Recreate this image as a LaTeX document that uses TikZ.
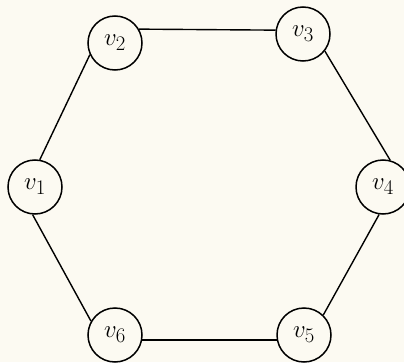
\documentclass[tikz,border=0pt]{standalone}
\begin{document}
\begin{tikzpicture}[x=1pt,y=1pt,
  vtx/.style={circle,draw,line width=1.5pt,minimum size=54pt,inner sep=0pt,fill=bgc,font=\fontsize{30}{31}\selectfont},
  edge/.style={line width=1.4pt}]
\definecolor{bgc}{RGB}{252,250,242}
\fill[bgc] (0,0) rectangle (404,362);
\useasboundingbox (0,0) rectangle (404,362);
\node[vtx] (v1) at (35,175) {$v_1$};
\node[vtx] (v2) at (115,319) {$v_2$};
\node[vtx] (v3) at (303,328) {$v_3$};
\node[vtx] (v4) at (383,175) {$v_4$};
\node[vtx] (v5) at (304,27) {$v_5$};
\node[vtx] (v6) at (115,27) {$v_6$};
\draw[edge] (v1.80) -- (v2.205);
\draw[edge] (v2.30) -- (v3.172);
\draw[edge] (v3.322) -- (v4.75);
\draw[edge] (v4.262) -- (v5.46);
\draw[edge] (v5.190) -- (v6.350);
\draw[edge] (v6.150) -- (v1.265);
\end{tikzpicture}
\end{document}
